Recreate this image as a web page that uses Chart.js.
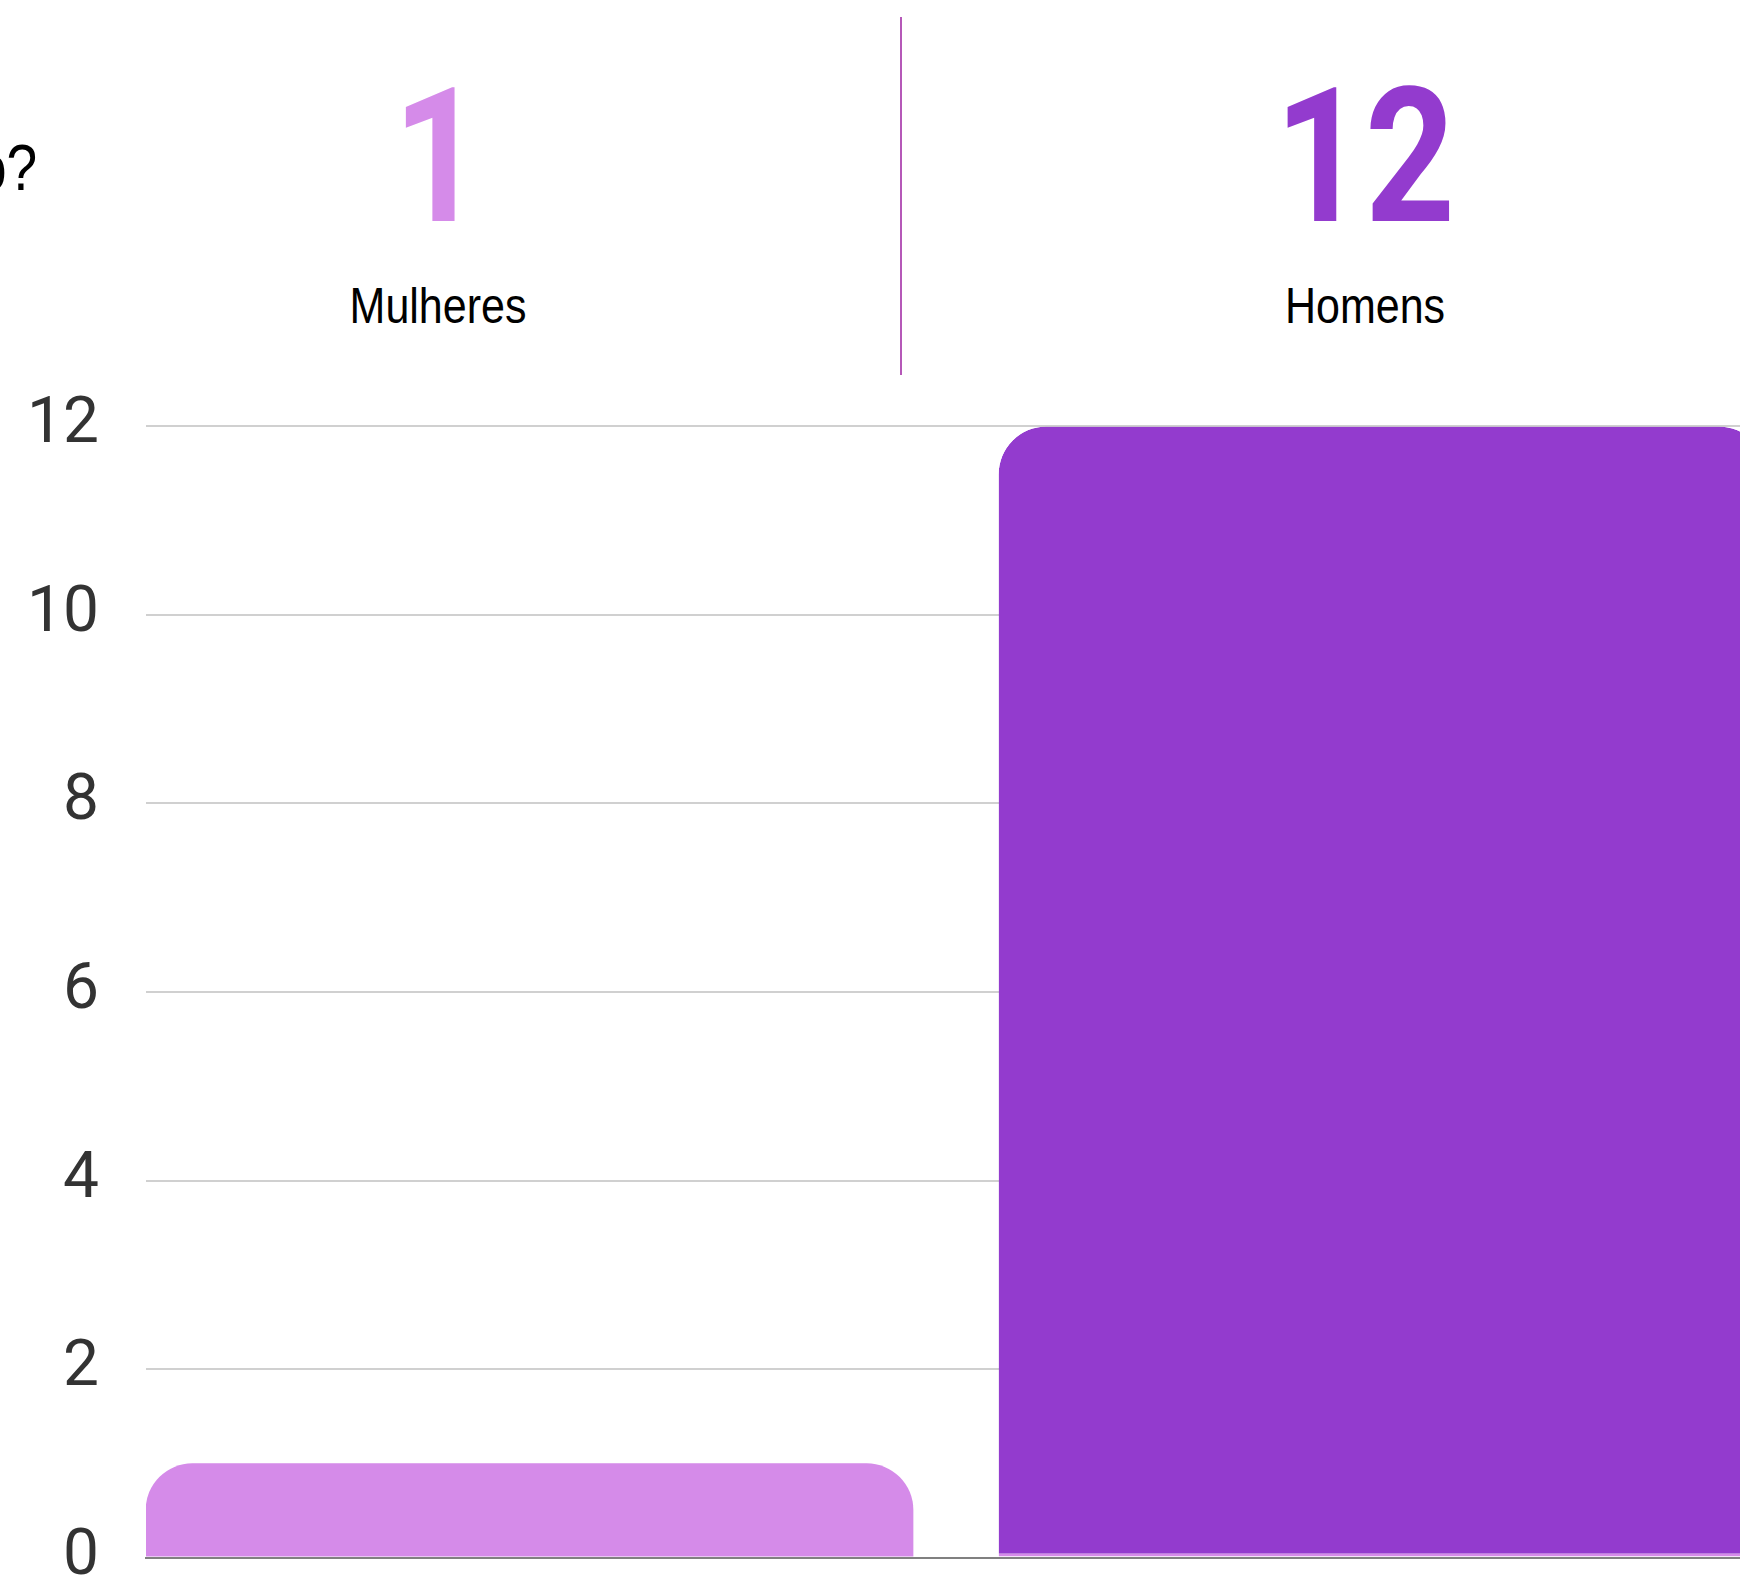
<!DOCTYPE html>
<html>
<head>
<meta charset="utf-8">
<script src="https://cdn.jsdelivr.net/npm/chart.js@4.4.1/dist/chart.umd.min.js"></script>
<style>
  html, body { margin: 0; padding: 0; background: #fff; overflow: hidden; }
  body { width: 1740px; height: 1582px; position: relative; }
  .narrow { font-family: "Liberation Sans", sans-serif; position: absolute; white-space: nowrap; line-height: 1; }
  #question { right: calc(100% - 37px); top: 136px; font-size: 64px; color: #000; transform: scaleX(0.86); transform-origin: right center; }
  .col { width: 930px; text-align: center; }
  .big { font-family: Roboto, sans-serif; font-weight: 700; font-size: 187px; top: 64px; transform: scaleX(0.84); }
  .lbl { font-size: 50px; color: #000; top: 281px; transform: scaleX(0.86); }
  #divider { position: absolute; left: 900px; top: 17px; width: 2px; height: 358px; background: #b558b8; }
  #chart { position: absolute; left: 0; top: 341px; }
</style>
</head>
<body>
<div id="question" class="narrow">o?</div>
<div id="num0" class="narrow col big"></div>
<div id="lbl0" class="narrow col lbl"></div>
<div id="divider"></div>
<div id="num1" class="narrow col big"></div>
<div id="lbl1" class="narrow col lbl"></div>
<canvas id="chart" width="1740" height="1302"></canvas>
<script>
const categories = ['Mulheres', 'Homens'];
const values = [1, 12];
const colors = ['#d58be9', '#933bce'];
const yTicks = [0, 2, 4, 6, 8, 10, 12];

// header numbers above the chart
const centers = [438, 1365];
categories.forEach((c, i) => {
    const num = document.getElementById('num' + i);
    num.textContent = values[i];
    num.style.color = colors[i];
    num.style.left = (centers[i] - 465) + 'px';
    const lbl = document.getElementById('lbl' + i);
    lbl.textContent = c;
    lbl.style.left = (centers[i] - 465) + 'px';
});

new Chart(document.getElementById('chart'), {
    type: 'bar',
    data: {
        datasets: [{
            label: 'Total',
            data: values.map((v, i) => ({ x: i, y: v })),
            backgroundColor: colors,
            borderColor: colors[0],
            borderWidth: (ctx) => ctx.dataIndex === 1 ? { top: 0, left: 0, right: 0, bottom: 3 } : 0,
            borderSkipped: false,
            borderRadius: (ctx) => {
                const r = ctx.dataIndex === 0 ? 55 : 48;
                return { topLeft: r, topRight: r, bottomLeft: 0, bottomRight: 0 };
            },
            categoryPercentage: 1,
            barPercentage: 0.9
        }]
    },
    options: {
        responsive: false,
        animation: false,
        devicePixelRatio: 1,
        layout: { padding: { top: 6, bottom: 4, left: 0, right: 0 } },
        plugins: { legend: { display: false }, tooltip: { enabled: false } },
        scales: {
            x: {
                type: 'linear',
                offset: false,
                min: -0.4496,
                max: 1.4191,
                afterBuildTicks: (axis) => { axis.ticks = categories.map((c, i) => ({ value: i })); },
                ticks: { display: false },
                grid: { display: false, drawTicks: false, offset: false },
                border: { display: true, color: '#808080', width: 2 }
            },
            y: {
                min: 0,
                max: 12,
                afterBuildTicks: (axis) => { axis.ticks = yTicks.map(v => ({ value: v })); },
                afterFit: (axis) => { axis.width = 146; },
                ticks: {
                    padding: 47,
                    color: '#333333',
                    font: { family: 'Roboto', size: 64 }
                },
                grid: { color: '#d0d0d0', lineWidth: 2, drawTicks: false },
                border: { display: false }
            }
        }
    }
});
</script>
</body>
</html>
